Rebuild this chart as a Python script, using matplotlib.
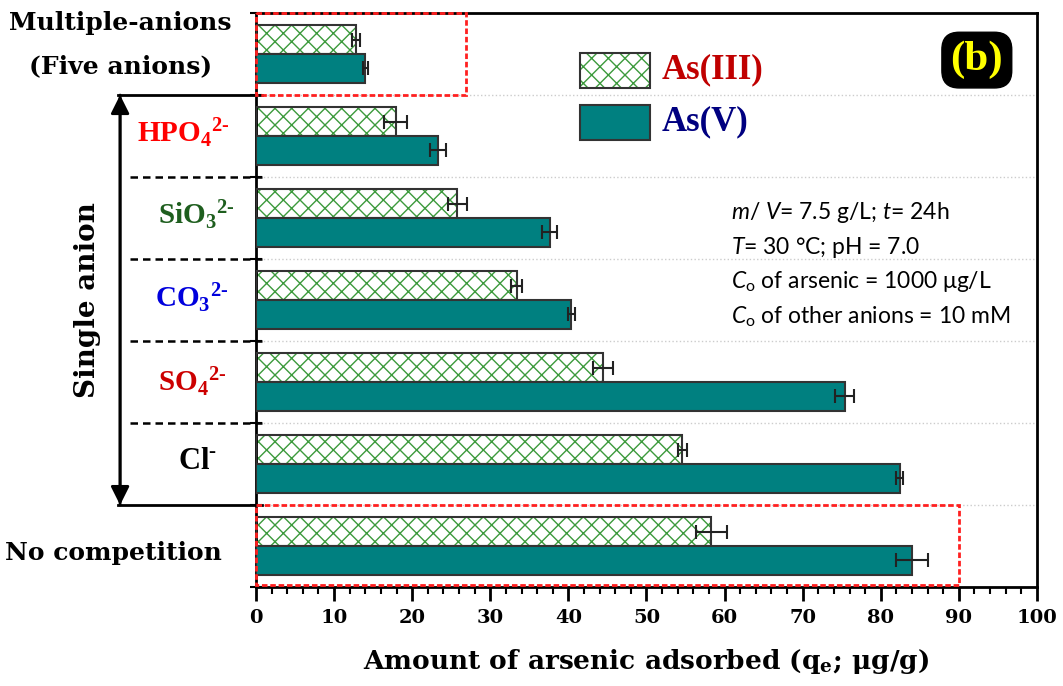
import matplotlib
matplotlib.use('Agg')
import matplotlib.pyplot as plt
import numpy as np
import matplotlib.transforms as mtransforms
from matplotlib.patches import Rectangle
from matplotlib.ticker import MultipleLocator

# ---------------- data ----------------
groups = ['Multiple-anions', 'HPO4', 'SiO3', 'CO3', 'SO4', 'Cl', 'No competition']
as3 = [12.8, 17.9, 25.8, 33.4, 44.4, 54.6, 58.3]
as3_err = [0.5, 1.5, 1.2, 0.7, 1.3, 0.6, 2.0]
as5 = [14.0, 23.3, 37.6, 40.4, 75.4, 82.4, 84.0]
as5_err = [0.3, 1.0, 1.0, 0.5, 1.2, 0.4, 2.0]
xticks = list(range(0, 101, 10))

GEO = ['DejaVu Serif']
TIMES = ['Liberation Serif', 'DejaVu Serif']

plt.rcParams['font.family'] = TIMES
plt.rcParams['font.weight'] = 'bold'
plt.rcParams['mathtext.fontset'] = 'custom'
plt.rcParams['mathtext.rm'] = 'Liberation Serif:bold'
plt.rcParams['mathtext.bf'] = 'DejaVu Serif:bold'
plt.rcParams['mathtext.it'] = 'Lato:italic:normal'
plt.rcParams['mathtext.sf'] = 'Lato:normal'
plt.rcParams['hatch.linewidth'] = 1.0

fig = plt.figure(figsize=(10.63, 6.86), dpi=100)
ax = fig.add_axes([0.2408, 0.1443, 0.7347, 0.8367])

n = len(groups)
y = np.arange(n) + 0.5
h = 0.35
teal = '#008080'
green = '#3c9a3c'

# As(III) hatched bars
ax.barh(y - h / 2, as3, height=h, color='white', edgecolor=green, hatch='xx', linewidth=0, zorder=2)
ax.barh(y - h / 2, as3, height=h, color='none', edgecolor='#333333', linewidth=1.5, zorder=3)
ax.errorbar(as3, y - h / 2, xerr=as3_err, fmt='none', ecolor='#222222', capsize=5,
            elinewidth=1.5, capthick=1.5, zorder=4)
# As(V) solid bars
ax.barh(y + h / 2, as5, height=h, color=teal, edgecolor='#333333', linewidth=1.5, zorder=3)
ax.errorbar(as5, y + h / 2, xerr=as5_err, fmt='none', ecolor='#222222', capsize=5,
            elinewidth=1.5, capthick=1.5, zorder=4)

ax.set_xlim(0, 100)
ax.set_ylim(n, 0)
ax.set_xticks(xticks)
ax.set_xticklabels([str(t) for t in xticks], fontfamily=GEO, fontsize=14, fontweight='bold')
ax.xaxis.set_minor_locator(MultipleLocator(2))
ax.tick_params(axis='x', which='major', direction='out', length=10, width=2, pad=6)
ax.tick_params(axis='x', which='minor', direction='out', length=5, width=1.5)
ax.set_yticks(range(0, n + 1))
ax.set_yticklabels([])
ax.tick_params(axis='y', which='major', direction='inout', length=8, width=1.5)
for s in ax.spines.values():
    s.set_linewidth(2)

for b in range(1, n):
    ax.axhline(b, color='#cccccc', ls=':', lw=1, zorder=0)

ax.set_xlabel(r'Amount of arsenic adsorbed (q$_\mathbf{e}$; μg/g)', fontsize=19,
              fontweight='bold', fontfamily=GEO, labelpad=14)

trans = mtransforms.blended_transform_factory(ax.transAxes, ax.transData)

# separator lines on the left
for b in [1, 6]:
    ax.plot([-0.177, 0.008], [b, b], transform=trans, clip_on=False, color='black', lw=2)
for b in [2, 3, 4, 5]:
    ax.plot([-0.161, 0.008], [b, b], transform=trans, clip_on=False, color='black', lw=1.8,
            ls=(0, (3, 2)))

for a, bb in [(6, 1), (1, 6)]:
    ax.annotate('', xy=(-0.174, a), xytext=(-0.174, bb), xycoords=trans, textcoords=trans,
                arrowprops=dict(arrowstyle='-|>', lw=2, color='black', mutation_scale=28,
                                shrinkA=0, shrinkB=0), annotation_clip=False)

ax.text(-0.216, 3.5, 'Single anion', transform=trans, rotation=90, ha='center', va='center',
        fontsize=20, fontweight='bold', fontfamily=GEO)

# category labels
ax.text(-0.174, 0.12, 'Multiple-anions', transform=trans, ha='center', va='center',
        fontsize=18, fontfamily=GEO)
ax.text(-0.174, 0.65, '(Five anions)', transform=trans, ha='center', va='center',
        fontsize=18, fontfamily=GEO)
ax.text(-0.093, 1.45, r'HPO$_\mathrm{4}$$^\text{2-}$', transform=trans, ha='center', va='center',
        fontsize=21, color='#ff0000')
ax.text(-0.077, 2.45, r'SiO$_\mathrm{3}$$^\text{2-}$', transform=trans, ha='center', va='center',
        fontsize=21, color='#1e5e1e')
ax.text(-0.082, 3.47, r'CO$_\mathrm{3}$$^\text{2-}$', transform=trans, ha='center', va='center',
        fontsize=21, color='#0000dd')
ax.text(-0.082, 4.49, r'SO$_\mathrm{4}$$^\text{2-}$', transform=trans, ha='center', va='center',
        fontsize=21, color='#cc0000')
ax.text(-0.075, 5.47, r'Cl$^\text{-}$', transform=trans, ha='center', va='center',
        fontsize=22, color='black')
ax.text(-0.183, 6.58, 'No competition', transform=trans, ha='center', va='center',
        fontsize=18, fontfamily=GEO)

# red dashed boxes
ax.add_patch(Rectangle((0.05, 0.0), 26.8, 1.0, fill=False, ec='#ff2020', lw=2,
                       ls=(0, (2, 1)), clip_on=False, zorder=5))
ax.add_patch(Rectangle((0.05, 6.0), 90, 0.97, fill=False, ec='#ff2020', lw=2,
                       ls=(0, (2, 1)), clip_on=False, zorder=5))

# legend (manual)
ax.add_patch(Rectangle((0.415, 0.869), 0.0896, 0.061, transform=ax.transAxes, facecolor='white',
                       edgecolor=green, hatch='xx', lw=0, zorder=6))
ax.add_patch(Rectangle((0.415, 0.869), 0.0896, 0.061, transform=ax.transAxes, facecolor='none',
                       edgecolor='#333333', lw=1.5, zorder=7))
ax.add_patch(Rectangle((0.415, 0.779), 0.0896, 0.061, transform=ax.transAxes, facecolor=teal,
                       edgecolor='#333333', lw=1.5, zorder=7))
ax.text(0.520, 0.901, 'As(III)', transform=ax.transAxes, ha='left', va='center', fontsize=25,
        color='#c00000')
ax.text(0.520, 0.810, 'As(V)', transform=ax.transAxes, ha='left', va='center', fontsize=25,
        color='#000080')

# panel label
ax.text(0.923, 0.918, '(b)', transform=ax.transAxes, ha='center', va='center', fontsize=31,
        color='#ffff00', fontweight='bold',
        bbox=dict(boxstyle='round,pad=0.2,rounding_size=0.4', facecolor='black', edgecolor='black'))

# condition annotation
ann = [r'$m$/ $V$= 7.5 g/L; $t$= 24h',
       r'$T$= 30 °C; pH = 7.0',
       r'$C_\mathsf{o}$ of arsenic = 1000 μg/L',
       r'$C_\mathsf{o}$ of other anions = 10 mM']
for i, line in enumerate(ann):
    ax.text(0.608, 0.652 - i * 0.0602, line, transform=ax.transAxes, ha='left', va='center',
            fontsize=16.5, fontweight='normal', fontfamily=['Lato'], color='black')

fig.savefig('out.png', dpi=100)
